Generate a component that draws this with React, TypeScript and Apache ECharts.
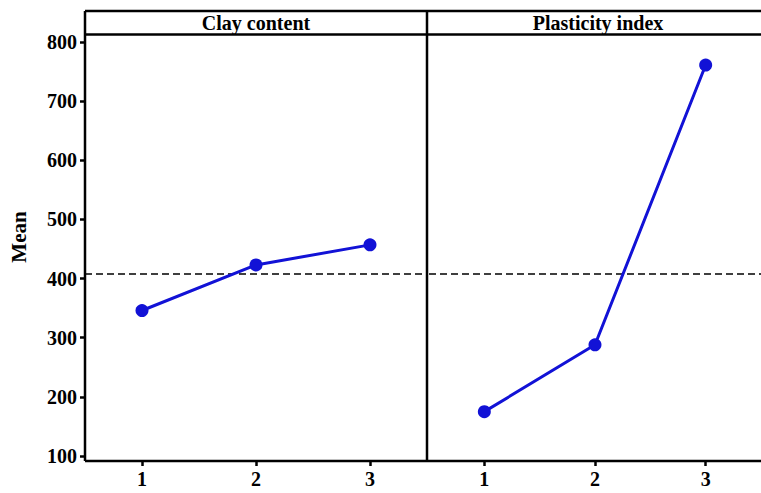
import React, { useEffect, useRef } from "react";
import * as echarts from "echarts";

const categories = ["1", "2", "3"];
const panelTitles = ["Clay content", "Plasticity index"];
const clayContent = [346, 423, 457];
const plasticityIndex = [175, 288, 761];
const grandMean = 408;
const yMin = 100;
const yMax = 800;
const yInterval = 100;

const FONT = '"Liberation Serif", "Times New Roman", serif';
const BLUE = "#1212d6";

export default function App() {
  const ref = useRef<HTMLDivElement>(null);
  useEffect(() => {
    if (!ref.current) return;
    const chart = echarts.init(ref.current, undefined, { renderer: "svg" });
    const frame = { stroke: "#000", lineWidth: 2.5 };
    const mkLine = (x1: number, y1: number, x2: number, y2: number) => ({
      type: "line",
      shape: { x1, y1, x2, y2 },
      style: frame,
      z: 10,
    });
    const xAxisCommon = {
      type: "category",
      data: categories,
      boundaryGap: true,
      offset: 5,
      axisLine: { show: false },
      axisTick: { show: true, alignWithLabel: true, length: 5, lineStyle: { color: "#000", width: 2.5 } },
      axisLabel: { color: "#000", fontFamily: FONT, fontWeight: "bold", fontSize: 20, margin: 8 },
      splitLine: { show: false },
    };
    const yAxisCommon = {
      type: "value",
      min: yMin,
      max: yMax,
      interval: yInterval,
      splitLine: { show: false },
      axisLine: { show: false },
    };
    const seriesCommon = {
      type: "line",
      symbol: "circle",
      symbolSize: 13,
      lineStyle: { color: BLUE, width: 3 },
      itemStyle: { color: BLUE },
      z: 5,
      markLine: {
        silent: true,
        symbol: "none",
        label: { show: false },
        lineStyle: { color: "#000", type: [7, 4], width: 1.5 },
        data: [{ yAxis: grandMean }],
      },
    };
    chart.setOption({
      animation: false,
      backgroundColor: "#fff",
      grid: [
        { left: 85, width: 342, top: 42, bottom: 37 },
        { left: 429, width: 338, top: 42, bottom: 37 },
      ],
      xAxis: [
        { ...xAxisCommon, gridIndex: 0 },
        { ...xAxisCommon, gridIndex: 1 },
      ],
      yAxis: [
        {
          ...yAxisCommon,
          gridIndex: 0,
          axisTick: { show: true, length: 5, lineStyle: { color: "#000", width: 2.5 } },
          axisLabel: { color: "#000", fontFamily: FONT, fontWeight: "bold", fontSize: 20, margin: 8 },
        },
        {
          ...yAxisCommon,
          gridIndex: 1,
          axisTick: { show: false },
          axisLabel: { show: false },
        },
      ],
      series: [
        { ...seriesCommon, name: panelTitles[0], xAxisIndex: 0, yAxisIndex: 0, data: clayContent },
        { ...seriesCommon, name: panelTitles[1], xAxisIndex: 1, yAxisIndex: 1, data: plasticityIndex },
      ],
      graphic: [
        mkLine(85, 11, 761, 11),
        mkLine(85, 34.5, 761, 34.5),
        mkLine(85, 11, 85, 461),
        mkLine(427, 11, 427, 461),
        mkLine(85, 461, 761, 461),
        {
          type: "text",
          x: 256,
          y: 23,
          style: {
            text: panelTitles[0],
            fill: "#000",
            font: `bold 20px ${FONT}`,
            align: "center",
            verticalAlign: "middle",
          },
        },
        {
          type: "text",
          x: 598,
          y: 23,
          style: {
            text: panelTitles[1],
            fill: "#000",
            font: `bold 20px ${FONT}`,
            align: "center",
            verticalAlign: "middle",
          },
        },
        {
          type: "text",
          x: 19,
          y: 237,
          rotation: Math.PI / 2,
          style: {
            text: "Mean",
            fill: "#000",
            font: `bold 21px ${FONT}`,
            align: "center",
            verticalAlign: "middle",
          },
        },
      ],
    });
    return () => chart.dispose();
  }, []);
  return (
    <div
      ref={ref}
      style={{ position: "fixed", left: 0, top: 0, width: 761, height: 493 }}
    />
  );
}
